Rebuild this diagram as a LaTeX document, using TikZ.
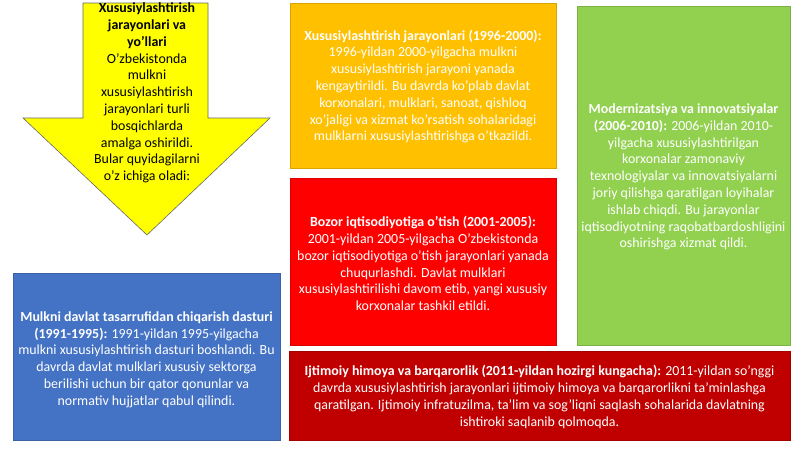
\documentclass[tikz,border=0pt]{standalone}
\usepackage{fontspec}
\setmainfont{Carlito}
\definecolor{yel}{HTML}{FFFF00}
\definecolor{org}{HTML}{FFC000}
\definecolor{rd}{HTML}{FF0000}
\definecolor{grn}{HTML}{92D050}
\definecolor{blu}{HTML}{4472C4}
\definecolor{drd}{HTML}{C00000}
\begin{document}
\begin{tikzpicture}[x=1pt,y=-1pt,
  txt/.style={align=center,font=\fontsize{13.9}{16.8}\selectfont,inner sep=0pt},
  wtxt/.style={txt,text=white},
  box/.style={draw=#1!85!black,line width=0.6pt,fill=#1}]
\useasboundingbox (0,0) rectangle (800,450);
\fill[white] (0,0) rectangle (800,450);
% yellow arrow
\draw[fill=yel,draw=black!60,line width=0.6pt]
  (83,3) -- (208,3) -- (208,118) -- (270,118) -- (147,235) -- (23,118) -- (83,118) -- cycle;
\node[txt] (arrowtxt) at (147,93) {\textbf{Xususiylashtirish}\\\textbf{jarayonlari va}\\\textbf{yo'llari}\\O'zbekistonda\\mulkni\\xususiylashtirish\\jarayonlari turli\\bosqichlarda\\amalga oshirildi.\\Bular quyidagilarni\\o'z ichiga oladi:};
% boxes
\path[box=org] (290,3) rectangle (556,168);
\node[wtxt] (orgtxt) at (423,86.5) {\textbf{Xususiylashtirish jarayonlari (1996-2000):}\\1996-yildan 2000-yilgacha mulkni\\xususiylashtirish jarayoni yanada\\kengaytirildi. Bu davrda ko'plab davlat\\korxonalari, mulklari, sanoat, qishloq\\xo'jaligi va xizmat ko'rsatish sohalaridagi\\mulklarni xususiylashtirishga o'tkazildi.};
\path[box=rd] (290,178) rectangle (556,345);
\node[wtxt] (rdtxt) at (423,263.5) {\textbf{Bozor iqtisodiyotiga o'tish (2001-2005):}\\2001-yildan 2005-yilgacha O'zbekistonda\\bozor iqtisodiyotiga o'tish jarayonlari yanada\\chuqurlashdi. Davlat mulklari\\xususiylashtirilishi davom etib, yangi xususiy\\korxonalar tashkil etildi.};
\path[box=grn] (577,6) rectangle (790,345);
\node[wtxt] (grntxt) at (683.5,177) {\textbf{Modernizatsiya va innovatsiyalar}\\\textbf{(2006-2010):} 2006-yildan 2010-\\yilgacha xususiylashtirilgan\\korxonalar zamonaviy\\texnologiyalar va innovatsiyalarni\\joriy qilishga qaratilgan loyihalar\\ishlab chiqdi. Bu jarayonlar\\iqtisodiyotning raqobatbardoshligini\\oshirishga xizmat qildi.};
\path[box=blu] (13,273) rectangle (280,440);
\node[wtxt] (blutxt) at (146.5,359.5) {\textbf{Mulkni davlat tasarrufidan chiqarish dasturi}\\\textbf{(1991-1995):} 1991-yildan 1995-yilgacha\\mulkni xususiylashtirish dasturi boshlandi. Bu\\davrda davlat mulklari xususiy sektorga\\berilishi uchun bir qator qonunlar va\\normativ hujjatlar qabul qilindi.};
\path[box=drd] (289,351) rectangle (790,440);
\node[wtxt] (drdtxt) at (539.5,397) {\textbf{Ijtimoiy himoya va barqarorlik (2011-yildan hozirgi kungacha):} 2011-yildan so'nggi\\davrda xususiylashtirish jarayonlari ijtimoiy himoya va barqarorlikni ta'minlashga\\qaratilgan. Ijtimoiy infratuzilma, ta'lim va sog'liqni saqlash sohalarida davlatning\\ishtiroki saqlanib qolmoqda.};
\end{tikzpicture}
\end{document}
